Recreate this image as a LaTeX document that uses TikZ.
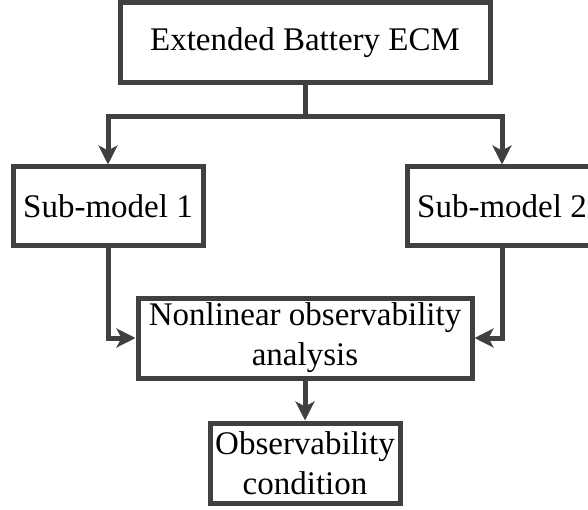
\documentclass[tikz,border=0pt]{standalone}
\usepackage{fontspec}
\setmainfont{Liberation Serif}
\usetikzlibrary{arrows.meta}
\definecolor{lc}{HTML}{404040}
\begin{document}
\begin{tikzpicture}[x=1pt,y=-1pt,
  box/.style={draw=lc, line width=5pt, rectangle, inner sep=0pt, align=center,
    font=\fontsize{33}{40}\selectfont, text=black},
  arr/.style={draw=lc, line width=5pt, -{Stealth[length=19pt,width=19pt,inset=5pt]}}]
\useasboundingbox (0,0) rectangle (588,510);
\node[box, minimum width=370pt, minimum height=80pt] (ecm) at (305,43) {Extended Battery ECM};
\node[box, minimum width=190pt, minimum height=79pt] (sub1) at (108,206.5) {Sub-model 1};
\node[box, minimum width=190pt, minimum height=79pt] (sub2) at (502,206.5) {Sub-model 2};
\node[box, minimum width=334pt, minimum height=80pt] (nl) at (305,338) {Nonlinear observability\\analysis};
\node[box, minimum width=190pt, minimum height=80pt] (obs) at (305,463) {Observability\\condition};
\coordinate (j) at (305,117);
\draw[draw=lc, line width=5pt] (ecm.south) -- (j);
\draw[arr] (j) -| (sub1.north);
\draw[arr] (j) -| (sub2.north);
\draw[arr] (sub1.south) |- (nl.west);
\draw[arr] (sub2.south) |- (nl.east);
\draw[arr] (nl.south) -- (obs.north);
\end{tikzpicture}
\end{document}
